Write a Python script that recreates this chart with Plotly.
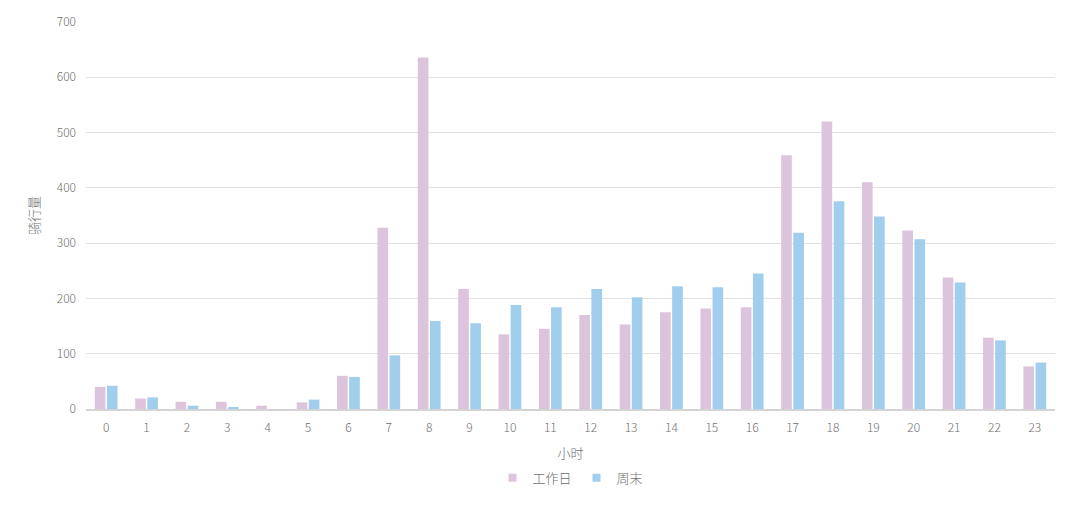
import plotly.graph_objects as go

hours = [str(h) for h in range(24)]
workday = [40, 19, 13, 13, 6, 12, 60, 328, 636, 217, 135, 145, 170, 153, 175, 182, 184, 459, 520, 410, 323, 238, 129, 77]
weekend = [42, 21, 6, 2, 0, 17, 58, 97, 159, 155, 188, 184, 217, 202, 222, 220, 245, 319, 376, 348, 307, 229, 124, 84]
series_names = ["工作日", "周末"]
colors = ["#dcc5dc", "#a2ceed"]

font_family = "Noto Sans CJK SC, Noto Sans, sans-serif"
grey = "#6e6e6e"

fig = go.Figure()
for name, vals, col in zip(series_names, [workday, weekend], colors):
    fig.add_trace(go.Bar(name=name, x=hours, y=vals, marker_color=col,
                         marker_line_width=0, showlegend=False, legendgroup=name))
# legend entries with small square symbols
for name, col in zip(series_names, colors):
    fig.add_trace(go.Scatter(name=name, x=[None], y=[None], mode="markers",
                             marker=dict(symbol="square", size=8, color=col),
                             legendgroup=name, showlegend=True))

fig.update_layout(
    width=1078, height=528,
    barmode="group", bargap=0.4, bargroupgap=0.12,
    plot_bgcolor="white", paper_bgcolor="white",
    margin=dict(l=78, r=31, t=14, b=127, autoexpand=False),
    font=dict(family=font_family, color=grey, size=12, weight=300),
    legend=dict(orientation="h", x=0.5, xanchor="center", y=-0.178, yanchor="middle",
                font=dict(size=13, color=grey, weight=300), itemwidth=30, traceorder="normal"),
    xaxis=dict(
        title=dict(text="小时", font=dict(size=13, color=grey, weight=300), standoff=14),
        showline=True, linecolor="#d4d4d4", linewidth=2,
        ticks="", ticklabelstandoff=7, tickfont=dict(size=12, color=grey, weight=300), showgrid=False,
    ),
    yaxis=dict(
        title=dict(text="骑行量", font=dict(size=13, color=grey, weight=300), standoff=14),
        range=[0, 700], dtick=100, showgrid=True, gridcolor="#e2e2e2", gridwidth=1,
        zeroline=False, showline=False, ticks="", ticklabelstandoff=9,
        tickfont=dict(size=12, color=grey, weight=300),
    ),
)

fig.write_html("out.html")
